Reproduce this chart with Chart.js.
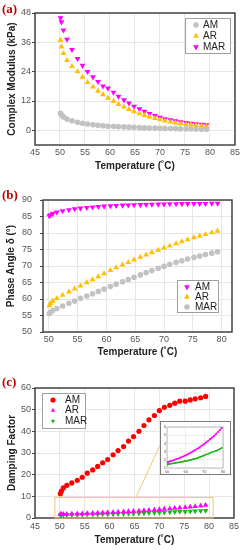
<!DOCTYPE html>
<html>
<head>
<meta charset="utf-8">
<script src="https://cdn.jsdelivr.net/npm/chart.js@4.4.1/dist/chart.umd.min.js"></script>
<style>
  html, body { margin: 0; padding: 0; background: #fff; }
  #wrap { position: relative; width: 242px; height: 550px; overflow: hidden; }
  #wrap canvas { position: absolute; left: 0; }
  .tag { position: absolute; left: 2px; font: bold 13px "Liberation Serif", serif; color: #c00000; line-height: 14px; }
  #insetBox { position: absolute; left: 160px; top: 421px; width: 69px; height: 52px; border: 1.5px solid #7a7a7a; background: #fff; }
  #insetBox canvas { position: absolute; left: 0; top: 0; }
</style>
</head>
<body>
<div id="wrap">
  <canvas id="chartA" width="242" height="180" style="top:0"></canvas>
  <canvas id="chartB" width="242" height="180" style="top:180px"></canvas>
  <canvas id="chartC" width="242" height="190" style="top:360px"></canvas>
  <div id="insetBox"><canvas id="chartInset" width="69" height="52"></canvas></div>
  <div class="tag" style="top:2px">(a)</div>
  <div class="tag" style="top:188px">(b)</div>
  <div class="tag" style="top:375px">(c)</div>
</div>
<script>
// ---- data ----
const temps = [50.1, 50.3, 50.7, 51.4, 52.4, 53.5, 54.5, 55.5, 56.6, 57.6, 58.6, 59.6, 60.7, 61.7, 62.8, 63.8,
               64.8, 65.9, 66.9, 67.9, 69.0, 70.0, 71.0, 72.1, 73.1, 74.1, 75.2, 76.2, 77.2, 78.3, 79.3];

// (a) complex modulus, kPa
const modAM  = [7.0, 6.3, 5.5, 4.6, 3.9, 3.3, 2.9, 2.6, 2.3, 2.1, 1.9, 1.7, 1.6, 1.5, 1.4, 1.3,
                1.2, 1.1, 1.0, 0.95, 0.9, 0.85, 0.8, 0.75, 0.7, 0.65, 0.6, 0.55, 0.5, 0.45, 0.4];
const modAR  = [36.8, 34.2, 31.5, 28.6, 26.2, 24.0, 21.8, 19.6, 17.8, 16.1, 14.6, 13.2, 11.9, 10.7, 9.6, 8.6,
                7.7, 6.9, 6.2, 5.5, 4.9, 4.4, 3.9, 3.5, 3.1, 2.8, 2.5, 2.3, 2.1, 1.9, 1.7];
const modMAR = [46.0, 44.3, 41.0, 37.2, 33.0, 29.3, 26.5, 24.0, 21.8, 19.9, 18.1, 17.2, 15.5, 13.9, 12.4, 11.1,
                9.8, 8.7, 7.7, 6.8, 6.0, 5.3, 4.7, 4.2, 3.8, 3.4, 3.1, 2.8, 2.6, 2.4, 2.2];

// (b) phase angle, degrees
const phaseAM  = [85.2, 85.5, 85.9, 86.3, 86.7, 87.0, 87.3, 87.5, 87.7, 87.85, 88.0, 88.1, 88.2, 88.3, 88.4, 88.45,
                  88.5, 88.55, 88.6, 88.65, 88.7, 88.75, 88.8, 88.8, 88.85, 88.85, 88.9, 88.9, 88.9, 88.95, 88.95];
const phaseAR  = [58.0, 58.7, 59.4, 60.2, 61.2, 62.2, 63.1, 64.0, 65.0, 65.9, 66.8, 67.7, 68.7, 69.5, 70.4, 71.1,
                  71.9, 72.7, 73.4, 74.1, 74.8, 75.5, 76.1, 76.8, 77.4, 78.0, 78.6, 79.1, 79.6, 80.1, 80.6];
const phaseMAR = [55.6, 56.0, 56.5, 57.1, 57.9, 58.7, 59.4, 60.2, 60.9, 61.6, 62.3, 63.0, 63.8, 64.5, 65.2, 65.9,
                  66.6, 67.3, 68.0, 68.6, 69.3, 69.9, 70.5, 71.1, 71.6, 72.1, 72.6, 73.0, 73.5, 73.9, 74.3];

// (c) damping factor
const dampAM  = [11.2, 12.4, 13.9, 15.1, 16.2, 17.4, 18.8, 20.7, 22.2, 23.8, 25.5, 27.0, 29.2, 31.1, 33.0, 35.5,
                 37.6, 40.0, 42.7, 45.3, 47.3, 49.6, 51.1, 52.0, 53.0, 53.9, 53.9, 54.5, 55.0, 55.5, 56.1];
const dampAR  = [1.70, 1.72, 1.75, 1.80, 1.87, 1.95, 2.03, 2.11, 2.20, 2.30, 2.40, 2.51, 2.63, 2.75, 2.88, 3.01,
                 3.15, 3.30, 3.45, 3.61, 3.78, 3.95, 4.13, 4.32, 4.51, 4.71, 4.92, 5.14, 5.37, 5.62, 5.90];
const dampMAR = [1.43, 1.44, 1.46, 1.49, 1.53, 1.58, 1.62, 1.66, 1.70, 1.74, 1.78, 1.83, 1.88, 1.93, 1.99, 2.05,
                 2.11, 2.18, 2.26, 2.35, 2.45, 2.55, 2.64, 2.74, 2.83, 2.92, 3.01, 3.10, 3.20, 3.32, 3.45];

// tick values
const xTicksFull  = [45, 50, 55, 60, 65, 70, 75, 80, 85];
const xTicksB     = [50, 55, 60, 65, 70, 75, 80];
const yTicksA     = [0, 12, 24, 36, 48];
const yTicksB     = [50, 55, 60, 65, 70, 75, 80, 85, 90];
const yTicksC     = [0, 10, 20, 30, 40, 50, 60];
const xTicksInset = [50, 60, 70, 80];
const yTicksInset = [1, 2, 3, 4, 5, 6];

// zoomed region shown by the inset (data units)
const zoomX = [49, 80.8];
const zoomY = [0, 9.5];
const zoomLinkX = 65.3;

const FONT = '"Liberation Sans", Arial, sans-serif';
const GREY = '#c2c2c2', ORANGE = '#ffc000', MAGENTA = '#ff00ff', RED = '#ff0000', GREEN = '#19b819';

function series(label, ys, color, style, r, rot) {
  return {
    label,
    data: temps.map((t, i) => ({ x: t, y: ys[i] })),
    pointStyle: style,
    pointRadius: r,
    pointRotation: rot || 0,
    pointBackgroundColor: color,
    backgroundColor: color,
    borderColor: color,
    pointBorderWidth: 0,
    showLine: false
  };
}

function axis(min, max, vals, label, o) {
  return {
    type: 'linear', min, max,
    afterBuildTicks: s => { s.ticks = vals.map(v => ({ value: v })); },
    afterFit: s => { if (o.w !== undefined) s.width = o.w; if (o.h !== undefined) s.height = o.h; },
    grid: { color: o.grid || '#e6e6e6', lineWidth: 1, drawTicks: !!o.tick, tickLength: o.tick || 0, tickColor: '#444' },
    border: { display: false },
    ticks: { color: '#555', font: { size: o.fs || 9, family: FONT }, padding: o.pad, maxRotation: 0, autoSkip: false },
    title: { display: !!label, text: label, color: '#222', font: { size: 10, weight: 'bold', family: FONT }, padding: o.tpad || 0 }
  };
}

// plot frame
const frame = {
  id: 'frame',
  beforeDatasetsDraw(chart, args, opts) {
    const a = chart.chartArea, ctx = chart.ctx;
    ctx.save();
    ctx.strokeStyle = opts.color || '#444';
    ctx.lineWidth = opts.width || 1.5;
    ctx.strokeRect(a.left, a.top, a.right - a.left, a.bottom - a.top);
    ctx.restore();
  }
};

// boxed legend drawn inside the plot
const boxLegend = {
  id: 'boxLegend',
  afterDatasetsDraw(chart, args, o) {
    if (!o || o.x === undefined) return;
    const ctx = chart.ctx;
    ctx.save();
    ctx.fillStyle = '#fff';
    ctx.fillRect(o.x, o.y, o.w, o.h);
    ctx.strokeStyle = '#a0a0a0';
    ctx.lineWidth = 1;
    ctx.strokeRect(o.x + 0.5, o.y + 0.5, o.w, o.h);
    ctx.font = '10px ' + FONT;
    ctx.textBaseline = 'middle';
    chart.data.datasets.forEach((ds, i) => {
      const y = o.y + o.first + i * o.row;
      ctx.fillStyle = ds.backgroundColor;
      ctx.strokeStyle = ds.borderColor;
      Chart.helpers.drawPoint(ctx, { pointStyle: ds.pointStyle, radius: o.r || ds.pointRadius, rotation: ds.pointRotation, borderWidth: 0 }, o.x + o.mark, y);
      ctx.fillStyle = '#222';
      ctx.fillText(ds.label, o.x + o.text, y);
    });
    ctx.restore();
  }
};

// zoom rectangle + link to inset in panel (c)
const zoomMark = {
  id: 'zoomMark',
  beforeDatasetsDraw(chart, args, o) {
    if (!o || !o.on) return;
    const xs = chart.scales.x, ys = chart.scales.y, ctx = chart.ctx;
    const l = xs.getPixelForValue(zoomX[0]), r = xs.getPixelForValue(zoomX[1]);
    const t = ys.getPixelForValue(zoomY[1]), b = ys.getPixelForValue(zoomY[0]);
    ctx.save();
    ctx.strokeStyle = '#f6c27a';
    ctx.lineWidth = 1;
    ctx.strokeRect(l, t, r - l, b - t);
    ctx.beginPath();
    ctx.moveTo(xs.getPixelForValue(zoomLinkX), t);
    ctx.lineTo(o.toX, o.toY);
    ctx.stroke();
    ctx.restore();
  }
};

Chart.register(frame, boxLegend, zoomMark);

function makeChart(id, datasets, scales, pad, plugins) {
  return new Chart(document.getElementById(id), {
    type: 'scatter',
    data: { datasets },
    options: {
      responsive: false,
      animation: false,
      layout: { padding: pad },
      scales,
      plugins: Object.assign({ legend: { display: false }, tooltip: { enabled: false } }, plugins)
    }
  });
}

// (a)
makeChart('chartA', [
  series('AM', modAM, GREY, 'circle', 2.8),
  series('AR', modAR, ORANGE, 'triangle', 3.4),
  series('MAR', modMAR, MAGENTA, 'triangle', 3.4, 180)
], {
  x: axis(45, 85, xTicksFull, 'Temperature (˚C)', { h: 35, pad: 2, tpad: { top: 0, bottom: 8 } }),
  y: axis(-6, 48, yTicksA, 'Complex Modulus (kPa)', { w: 35, tick: 3, pad: 1, tpad: { top: 6, bottom: 0 } })
}, { left: 0, top: 13, right: 7, bottom: 0 },
  { boxLegend: { x: 185, y: 18, w: 45, h: 35, first: 7, row: 11, mark: 11, text: 18 } });

// (b)
makeChart('chartB', [
  series('AM', phaseAM, MAGENTA, 'triangle', 3.4, 180),
  series('AR', phaseAR, ORANGE, 'triangle', 3.4),
  series('MAR', phaseMAR, GREY, 'circle', 2.8)
], {
  x: axis(49, 81.8, xTicksB, 'Temperature (˚C)', { h: 28, pad: 2, tpad: { top: 0, bottom: 2 } }),
  y: axis(50, 90, yTicksB, 'Phase Angle δ (°)', { w: 43, tick: 3, pad: 8, tpad: { top: 5, bottom: 0 } })
}, { left: 0, top: 20, right: 10, bottom: 0 },
  { boxLegend: { x: 177, y: 100, w: 41, h: 32, first: 7, row: 10, mark: 10, text: 18 } });

// (c)
makeChart('chartC', [
  series('AM', dampAM, RED, 'circle', 2.6),
  series('AR', dampAR, MAGENTA, 'triangle', 3.2),
  series('MAR', dampMAR, GREEN, 'triangle', 3.2, 180)
], {
  x: axis(45, 85, xTicksFull, 'Temperature (˚C)', { h: 32, pad: 3, tpad: { top: 0, bottom: 4 } }),
  y: axis(0, 60, yTicksC, 'Damping Factor', { w: 35, tick: 3, pad: 1, tpad: { top: 6, bottom: 0 } })
}, { left: 0, top: 28, right: 7, bottom: 0 },
  { boxLegend: { x: 42, y: 33, w: 43, h: 35, first: 7, row: 10.5, mark: 11, text: 23, r: 2.6 },
    zoomMark: { on: true, toX: 160, toY: 85 } });

// inset
function insetSeries(ys, color) {
  return {
    data: temps.map((t, i) => ({ x: t, y: ys[i] })),
    pointStyle: 'rect', pointRadius: 1.2, pointBorderWidth: 0,
    backgroundColor: color, borderColor: color, borderWidth: 1.2, showLine: true
  };
}
makeChart('chartInset', [
  insetSeries(dampAR, MAGENTA),
  insetSeries(dampMAR, GREEN)
], {
  x: axis(50, 80, xTicksInset, '', { h: 6, pad: 1, fs: 4, grid: '#eeeeee' }),
  y: axis(1, 6, yTicksInset, '', { w: 6, pad: 1, fs: 4, grid: '#eeeeee' })
}, { left: 0, top: 5, right: 7, bottom: 0 },
  { frame: { color: '#bbbbbb', width: 1 } });
</script>
</body>
</html>
